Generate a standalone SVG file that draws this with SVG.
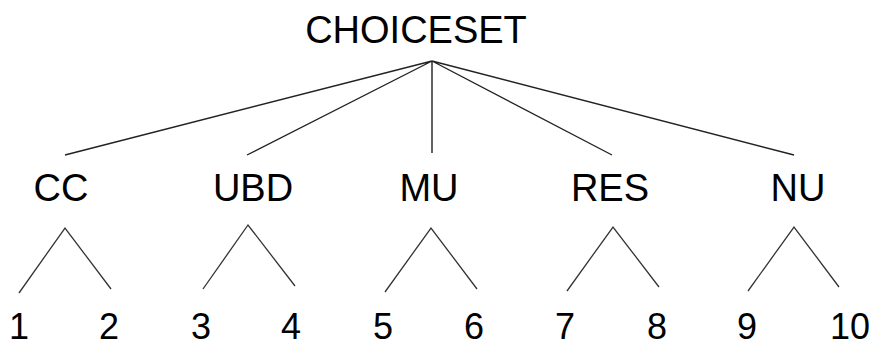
<svg xmlns="http://www.w3.org/2000/svg" width="872" height="347" viewBox="0 0 872 347">
<style>
text{font-family:"Liberation Sans",Arial,sans-serif;fill:#000;text-anchor:middle}
.lbl{font-size:38px}
.num{font-size:36px}
.e{stroke:#222;stroke-width:1.4;fill:none}
.s{stroke:#333;stroke-width:1.3;fill:none}
</style>
<rect width="872" height="347" fill="#fff"/>
<g id="connectors">
<path class="e" d="M432 61L65 155M432 61L247 155M432 61L432 153M432 61L612 155M432 61L794 155"/>
<path class="s" d="M19 293L65 228L111 289"/>
<path class="s" d="M203 289L248 225L295 286"/>
<path class="s" d="M385 292L431 228L477 289"/>
<path class="s" d="M567 291L613 227L659 287"/>
<path class="s" d="M748 291L794 227L839 287"/>
</g>
<g id="choiceset"><text class="lbl" x="416" y="43">CHOICESET</text></g>
<g id="cc"><text class="lbl" x="61" y="201">CC</text></g>
<g id="ubd"><text class="lbl" x="253" y="201">UBD</text></g>
<g id="mu"><text class="lbl" x="429" y="201">MU</text></g>
<g id="res"><text class="lbl" x="610" y="201">RES</text></g>
<g id="nu"><text class="lbl" x="798" y="201">NU</text></g>
<g id="n1"><text class="num" x="19" y="339">1</text></g>
<g id="n2"><text class="num" x="109" y="339">2</text></g>
<g id="n3"><text class="num" x="201" y="339">3</text></g>
<g id="n4"><text class="num" x="291" y="339">4</text></g>
<g id="n5"><text class="num" x="383" y="339">5</text></g>
<g id="n6"><text class="num" x="474" y="339">6</text></g>
<g id="n7"><text class="num" x="565" y="339">7</text></g>
<g id="n8"><text class="num" x="657" y="339">8</text></g>
<g id="n9"><text class="num" x="747" y="339">9</text></g>
<g id="n10"><text class="num" x="850" y="339">10</text></g>
</svg>
